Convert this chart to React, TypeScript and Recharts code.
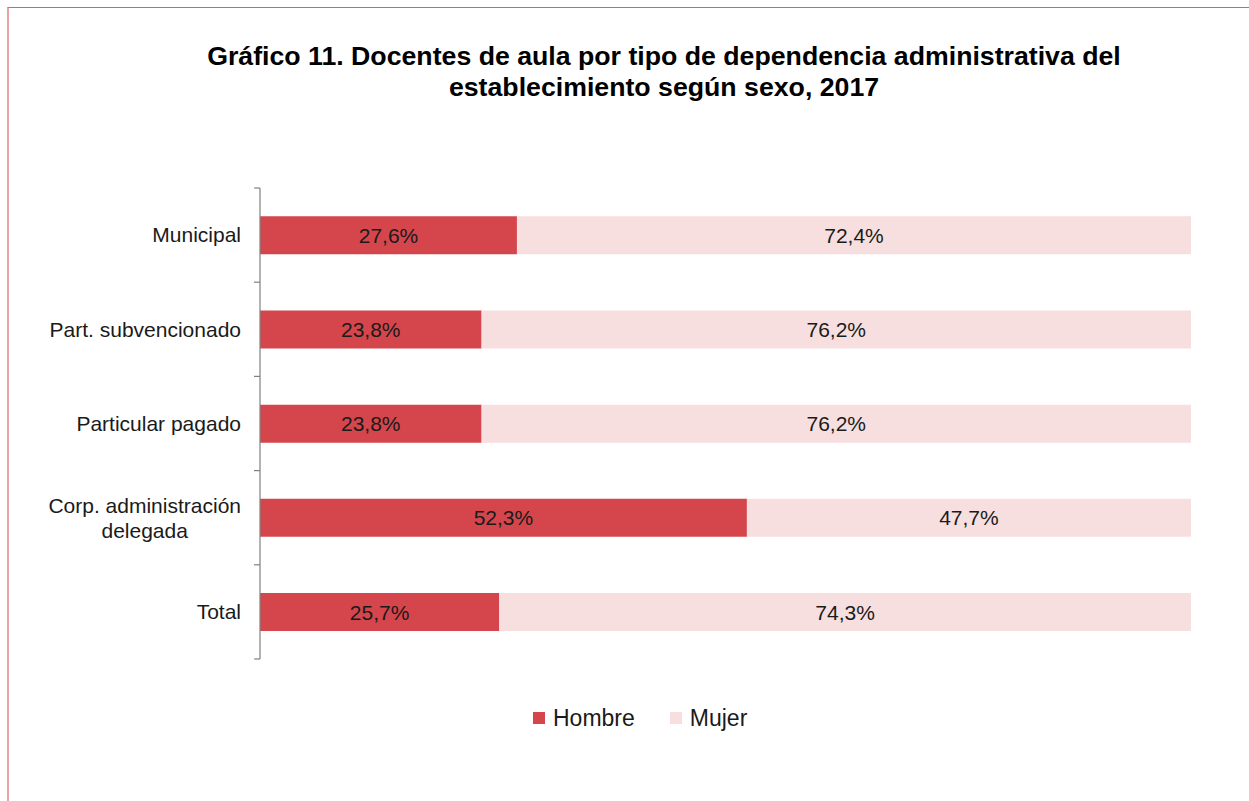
import React from 'react';
import { BarChart, Bar, XAxis, YAxis, Legend, LabelList } from 'recharts';

const categories = ['Municipal', 'Part. subvencionado', 'Particular pagado', 'Corp. administración delegada', 'Total'];
const hombre = [27.6, 23.8, 23.8, 52.3, 25.7];
const mujer = [72.4, 76.2, 76.2, 47.7, 74.3];

const W = 1249;
const H = 801;
const PLOT_TOP = 188;
const PLOT_BOTTOM = 659;
const AXIS_X = 260;
const LEGEND_H = 30;

const HOMBRE_COLOR = '#d4464c';
const MUJER_COLOR = '#f7dfe0';
const FONT = 'Arial, "Liberation Sans", sans-serif';

const data = categories.map((name, i) => ({ name, hombre: hombre[i], mujer: mujer[i] }));

const fmt = (v: any) => `${Number(v).toFixed(1).replace('.', ',')}%`;

// parte etiquetas largas en dos líneas
function splitLabel(label: string): string[] {
  if (label.length <= 22) return [label];
  const idx = label.lastIndexOf(' ');
  return [label.slice(0, idx), label.slice(idx + 1)];
}

let ctx: CanvasRenderingContext2D | null = null;
function measure(text: string, size: number) {
  if (!ctx) ctx = document.createElement('canvas').getContext('2d');
  if (!ctx) return text.length * size * 0.5;
  ctx.font = `${size}px ${FONT}`;
  return ctx.measureText(text).width;
}

function CategoryTick(props: any) {
  const { x, y, payload, index } = props;
  const band = (PLOT_BOTTOM - PLOT_TOP) / categories.length;
  const lines = splitLabel(String(payload.value));
  const size = 21;
  const lh = 25;
  const maxW = Math.max(...lines.map(l => measure(l, size)));
  const tx = lines.length > 1 ? x - maxW / 2 : x;
  const anchor = lines.length > 1 ? 'middle' : 'end';
  const y0 = y - ((lines.length - 1) * lh) / 2;
  return (
    <g>
      <line x1={AXIS_X - 6} x2={AXIS_X} y1={y - band / 2} y2={y - band / 2} stroke="#808080" strokeWidth={1.2} />
      {index === categories.length - 1 && (
        <line x1={AXIS_X - 6} x2={AXIS_X} y1={y + band / 2} y2={y + band / 2} stroke="#808080" strokeWidth={1.2} />
      )}
      <text x={tx} y={y0} textAnchor={anchor} fontSize={size} fontFamily={FONT} fill="#1a1a1a">
        {lines.map((l, i) => (
          <tspan key={i} x={tx} dy={i === 0 ? '0.35em' : lh}>
            {l}
          </tspan>
        ))}
      </text>
    </g>
  );
}

function LegendContent() {
  const items = [
    { label: 'Hombre', color: HOMBRE_COLOR },
    { label: 'Mujer', color: MUJER_COLOR },
  ];
  return (
    <div style={{ display: 'flex', alignItems: 'center', height: LEGEND_H, fontFamily: FONT, fontSize: 23, color: '#1a1a1a' }}>
      {items.map((it, i) => (
        <div key={it.label} style={{ display: 'flex', alignItems: 'center', marginRight: i === 0 ? 35 : 0 }}>
          <span style={{ display: 'inline-block', width: 12, height: 12, background: it.color, marginRight: 8 }} />
          <span>{it.label}</span>
        </div>
      ))}
    </div>
  );
}

export default function App() {
  return (
    <div style={{ position: 'absolute', left: 0, top: 0, width: W, height: H, overflow: 'hidden', background: '#fff' }}>
      <div
        style={{
          position: 'absolute',
          left: 7,
          top: 7,
          width: W,
          height: H,
          borderTop: '1px solid #de6063',
          borderLeft: '2px solid #eaa3a4',
        }}
      />
      <div
        style={{
          position: 'absolute',
          left: 164,
          top: 41,
          width: 1000,
          textAlign: 'center',
          fontFamily: FONT,
          fontWeight: 'bold',
          fontSize: 26.7,
          lineHeight: '31px',
          color: '#000',
        }}
      >
        Gráfico 11. Docentes de aula por tipo de dependencia administrativa del
        <br />
        establecimiento según sexo, 2017
      </div>
      <div style={{ position: 'absolute', left: 0, top: 0 }}>
        <BarChart
          width={W}
          height={H}
          data={data}
          layout="vertical"
          margin={{ top: PLOT_TOP, right: W - 1191, left: 0, bottom: H - PLOT_BOTTOM - LEGEND_H }}
          barCategoryGap="30%"
        >
          <XAxis type="number" domain={[0, 100]} hide />
          <YAxis
            type="category"
            dataKey="name"
            width={AXIS_X}
            axisLine={{ stroke: '#808080', strokeWidth: 1.2 }}
            tickLine={false}
            tickSize={6}
            tickMargin={13}
            tick={<CategoryTick />}
            interval={0}
          />
          <Legend
            verticalAlign="bottom"
            content={<LegendContent />}
            wrapperStyle={{ left: 533, bottom: H - 733, width: 'auto' }}
          />
          <Bar dataKey="hombre" name="Hombre" stackId="a" fill={HOMBRE_COLOR} isAnimationActive={false}>
            <LabelList dataKey="hombre" position="center" formatter={fmt} fill="#1a1a1a" fontSize={21} fontFamily={FONT} />
          </Bar>
          <Bar dataKey="mujer" name="Mujer" stackId="a" fill={MUJER_COLOR} isAnimationActive={false}>
            <LabelList dataKey="mujer" position="center" formatter={fmt} fill="#1a1a1a" fontSize={21} fontFamily={FONT} />
          </Bar>
        </BarChart>
      </div>
    </div>
  );
}
